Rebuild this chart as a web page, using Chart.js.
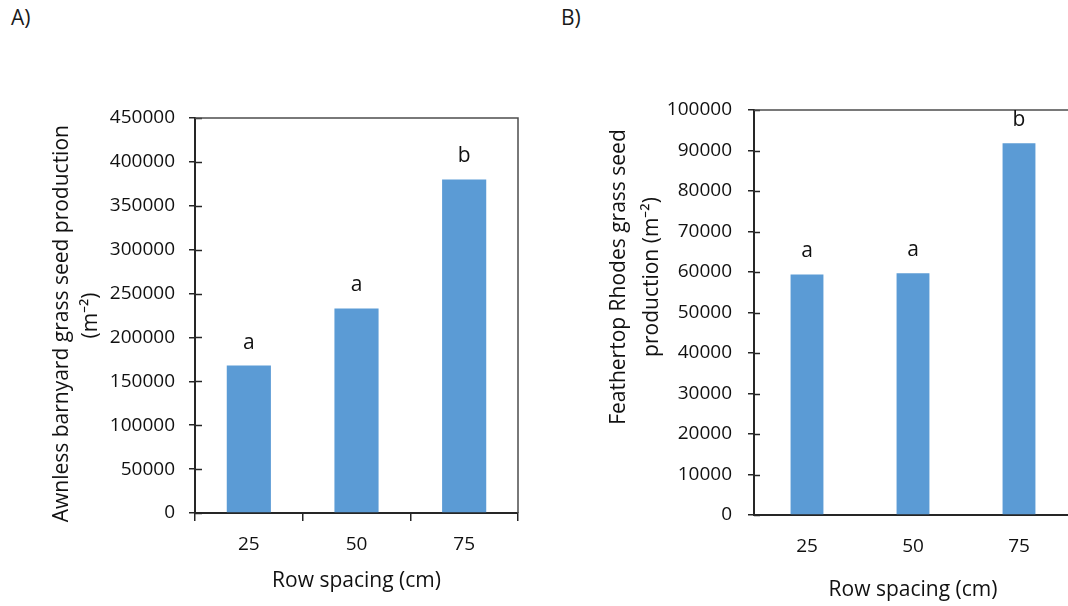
<!DOCTYPE html>
<html>
<head>
<meta charset="utf-8">
<script src="https://cdn.jsdelivr.net/npm/chart.js@4.4.0/dist/chart.umd.min.js"></script>
<style>
  html, body { margin: 0; padding: 0; background: #fff; }
  body { width: 1068px; height: 606px; overflow: hidden; position: relative; font-family: 'Open Sans', sans-serif; }
  canvas { position: absolute; top: 0; }
  .panel { position: absolute; top: 3px; font-size: 21px; color: #1a1a1a; }
</style>
</head>
<body>
<div class="panel" style="left: 11px;">A)</div>
<div class="panel" style="left: 561px;">B)</div>
<canvas id="chartA" width="545" height="606" style="left: 0;"></canvas>
<canvas id="chartB" width="560" height="606" style="left: 540px;"></canvas>
<script>
// Data
const rowSpacing = ['25', '50', '75'];
const barnyardSeeds = [168000, 233000, 380000];
const barnyardLetters = ['a', 'a', 'b'];
const rhodesSeeds = [59400, 59700, 91800];
const rhodesLetters = ['a', 'a', 'b'];

const barColor = '#5B9BD5';
const textColor = '#111111';
const axisColor = '#262626';

// inner half of the y tick marks + top/right frame + significance letters
const extrasPlugin = {
  id: 'extras',
  afterDraw: function (chart, args, opts) {
    const ctx = chart.ctx;
    const area = chart.chartArea;
    ctx.save();
    ctx.strokeStyle = axisColor;
    ctx.lineWidth = 1.5;
    const y = chart.scales.y;
    y.ticks.forEach(function (t) {
      const py = Math.round(y.getPixelForValue(t.value)) + 0.5;
      ctx.beginPath();
      ctx.moveTo(area.left, py);
      ctx.lineTo(area.left + opts.innerTick, py);
      ctx.stroke();
    });
    // frame
    ctx.strokeStyle = '#4d4d4d';
    ctx.lineWidth = 1.5;
    ctx.beginPath();
    ctx.moveTo(area.left, area.top);
    ctx.lineTo(area.right, area.top);
    ctx.lineTo(area.right, area.bottom);
    ctx.stroke();
    // letters above bars
    ctx.fillStyle = textColor;
    ctx.font = '21px "Open Sans"';
    ctx.textAlign = 'center';
    ctx.textBaseline = 'middle';
    chart.getDatasetMeta(0).data.forEach(function (bar, i) {
      ctx.fillText(opts.letters[i], bar.x, bar.y - 23);
    });
    ctx.restore();
  }
};

function makeChart(canvas, cfg) {
  return new Chart(canvas, {
    type: 'bar',
    data: {
      labels: rowSpacing,
      datasets: [{
        data: cfg.values,
        backgroundColor: barColor,
        borderWidth: 0,
        barPercentage: cfg.barPct,
        categoryPercentage: 1
      }]
    },
    options: {
      responsive: false,
      devicePixelRatio: 1,
      animation: false,
      layout: { padding: cfg.padding },
      plugins: {
        legend: { display: false },
        tooltip: { enabled: false },
        extras: { letters: cfg.letters, innerTick: cfg.innerTick }
      },
      scales: {
        x: {
          afterFit: function (scale) { scale.height = cfg.xHeight; },
          grid: {
            display: cfg.xTicks,
            drawOnChartArea: false,
            drawTicks: cfg.xTicks,
            offset: true,
            tickLength: 8,
            color: axisColor,
            lineWidth: 1.5
          },
          border: { display: true, color: axisColor, width: 2 },
          ticks: {
            color: textColor,
            font: { family: 'Open Sans', size: 19 },
            padding: cfg.xTickPad
          },
          title: {
            display: true,
            text: 'Row spacing (cm)',
            color: textColor,
            font: { family: 'Open Sans', size: 21 },
            padding: { top: 0, bottom: cfg.xTitlePad }
          }
        },
        y: {
          min: 0,
          max: cfg.max,
          afterFit: function (scale) { scale.width = cfg.yWidth; },
          grid: {
            display: true,
            drawOnChartArea: false,
            drawTicks: true,
            tickLength: 6,
            color: axisColor,
            lineWidth: 1.5
          },
          border: { display: true, color: axisColor, width: 2 },
          ticks: {
            stepSize: cfg.step,
            color: textColor,
            font: { family: 'Open Sans', size: 19 },
            padding: cfg.yTickPad,
            callback: function (v) { return String(v); }
          },
          title: {
            display: true,
            text: cfg.yTitle,
            color: textColor,
            font: { family: 'Open Sans', size: 21, lineHeight: cfg.yTitleLH },
            padding: { top: cfg.yTitlePad, bottom: 0 }
          }
        }
      }
    },
    plugins: [extrasPlugin]
  });
}

// A) Awnless barnyard grass
makeChart(document.getElementById('chartA'), {
  values: barnyardSeeds,
  letters: barnyardLetters,
  max: 450000,
  step: 50000,
  barPct: 0.41,
  padding: { top: 118, right: 27, bottom: 0, left: 0 },
  yWidth: 195,
  xHeight: 93,
  xTicks: true,
  xTickPad: 12,
  xTitlePad: 12,
  yTickPad: 14,
  innerTick: 7,
  yTitle: ['Awnless barnyard grass seed production\u00a0\u00a0\u00a0', '(m\u207b\u00b2)'],
  yTitleLH: 1.4,
  yTitlePad: 47
});

// B) Feathertop Rhodes grass
makeChart(document.getElementById('chartB'), {
  values: rhodesSeeds,
  letters: rhodesLetters,
  max: 100000,
  step: 10000,
  barPct: 0.31,
  padding: { top: 110, right: 28, bottom: 0, left: 0 },
  yWidth: 214,
  xHeight: 91,
  xTicks: false,
  xTickPad: 20,
  xTitlePad: 3,
  yTickPad: 16,
  innerTick: 6,
  yTitle: ['\u00a0'.repeat(13) + 'Feathertop Rhodes grass seed', '\u00a0'.repeat(13) + 'production (m\u207b\u00b2)'],
  yTitleLH: 1.55,
  yTitlePad: 63
});
</script>
</body>
</html>
